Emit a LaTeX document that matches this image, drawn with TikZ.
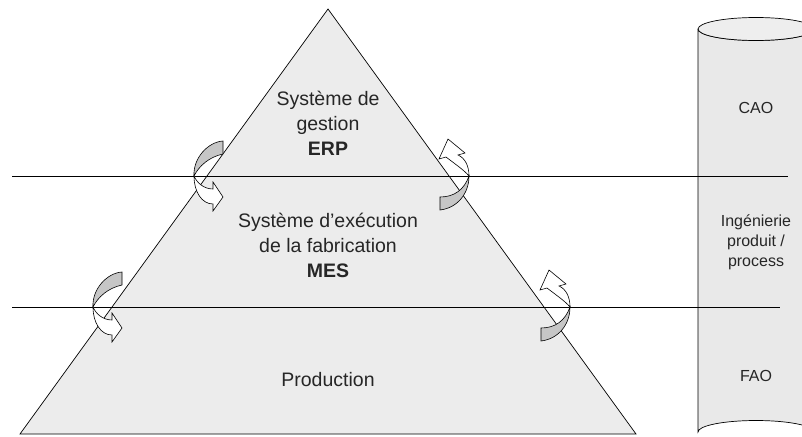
\documentclass[tikz,border=0pt]{standalone}
\usepackage{fontspec}
\setmainfont{Liberation Sans}
\begin{document}
\begin{tikzpicture}[x=1pt,y=-1pt,
    line/.style={draw, line width=0.9pt},
    level/.style={font=\fontsize{19.5}{25}\selectfont, align=center, text=black!85},
    side/.style={font=\fontsize{16}{20}\selectfont, align=center, text=black!85},
    back/.style={draw, line width=0.6pt, fill=gray!45},
    front/.style={draw, line width=0.6pt, fill=white},
    twistleft/.pic={
      \path [back] (0,0) .. controls (-1,-18) and (14,-34) .. (29,-35) -- (29,-22)
        .. controls (15,-19) and (5,-10) .. (0,0) -- cycle;
      \path [front] (0,0) .. controls (0,16) and (8,28) .. (19,28) -- (19,35) -- (29,21)
        -- (19,6) -- (19,13) .. controls (10,13) and (3,7) .. (0,0) -- cycle;
    },
    twistright/.pic={
      \path [back] (-29,21) -- (-29,34) .. controls (-12,32) and (0,18) .. (0,0)
        .. controls (-5,14) and (-15,21) .. (-29,21) -- cycle;
      \path [front] (0,0) .. controls (0,-10) and (-4,-18) .. (-11,-21) -- (-4,-23)
        -- (-21,-37) -- (-30,-17) -- (-23,-19) .. controls (-14,-12) and (-5,-6) .. (0,0) -- cycle;
    },
    ]
    \useasboundingbox (0,0) rectangle (802,436);

    % Pyramid and column
    \draw [fill=gray!15, line width=0.7pt] (328,9) -- (20,434) -- (636,434) -- cycle;
    \draw [fill=gray!17, line width=0.7pt] (698,29) -- (698,432) arc (180:360:58 and 11.5)
      -- (814,29) arc (0:180:58 and 11.5);
    \draw [fill=gray!13, line width=0.7pt] (756,29) ellipse (58 and 11.5);

    % Separators
    \path [line] (12,176) -- (788,176);
    \path [line] (12,307) -- (780,307);

    % Place labels
    \node [level] (erp) at (328,123) {Système de\\gestion\\\textbf{ERP}};
    \node [level] (mes) at (328,245) {Système d’exécution\\de la fabrication\\\textbf{MES}};
    \node [level] (prod) at (328,380) {Production};
    \node [side] (cao) at (756,108) {CAO};
    \node [side] (ing) at (756,242) {Ingénierie\\produit /\\process};
    \node [side] (fao) at (756,376) {FAO};

    % Exchange arrows
    \pic at (194,176) {twistleft};
    \pic at (93,307) {twistleft};
    \pic at (469,176) {twistright};
    \pic at (570,307) {twistright};
\end{tikzpicture}
\end{document}
